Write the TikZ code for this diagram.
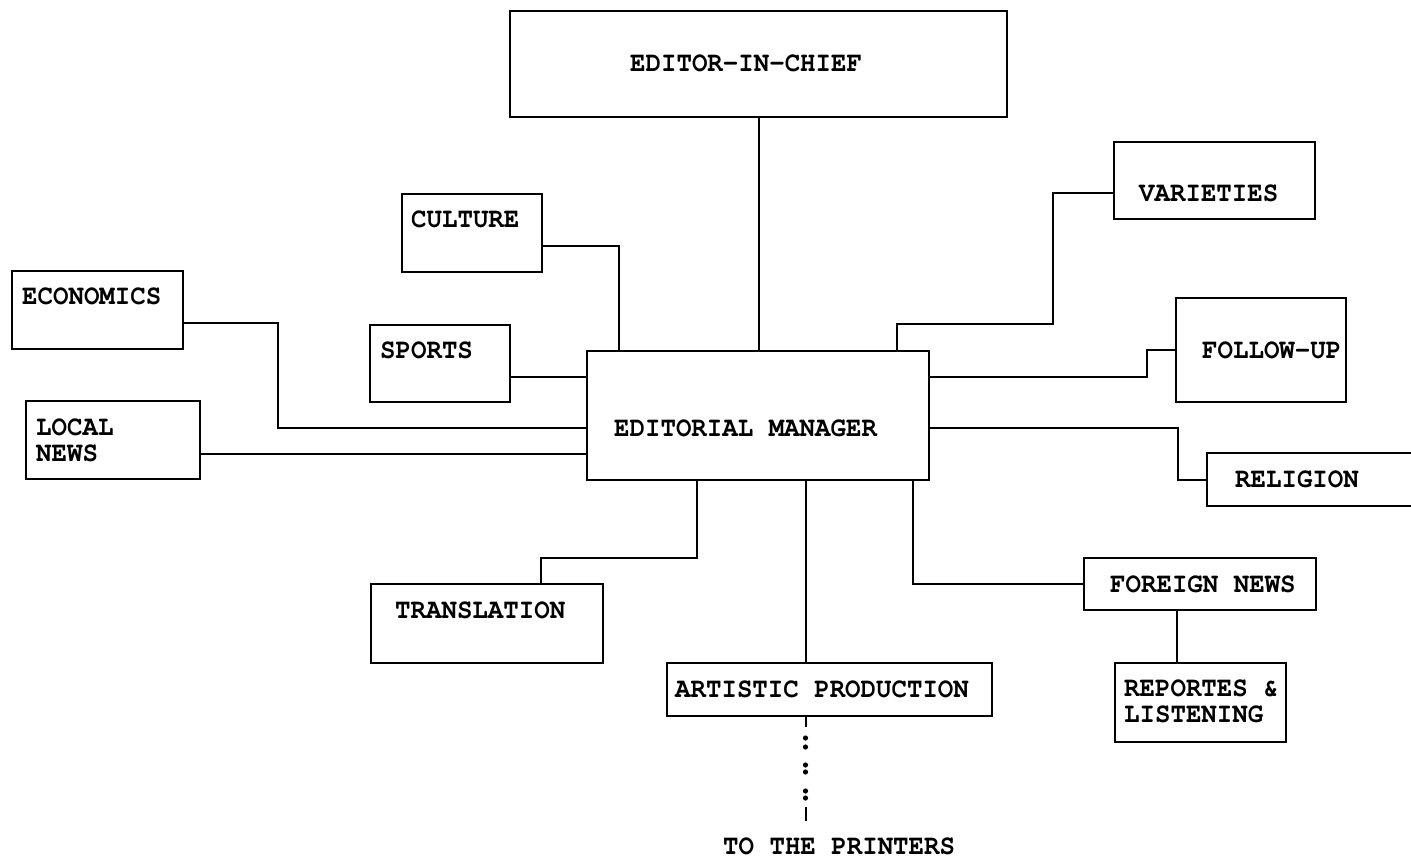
\documentclass[tikz,border=0pt]{standalone}
\usepackage{fontspec}
\newfontfamily\courfont{texgyrecursor}[Extension=.otf, UprightFont=*-regular, BoldFont=*-bold, FakeStretch=0.92]
\usetikzlibrary{calc}
\tikzset{
  box/.style={draw, line width=2pt, rectangle, inner sep=0pt},
  txt/.style={inner sep=0pt, anchor=west, font=\courfont\bfseries\fontsize{28}{26}\selectfont, align=left},
  conn/.style={line width=2pt},
  dotc/.style={fill=black}
}
\begin{document}
\begin{tikzpicture}[x=1pt,y=-1pt]
\clip (0,0) rectangle (1411,859);
\fill[white] (0,0) rectangle (1411,859);

% boxes
\node[box, minimum width=497pt, minimum height=106pt] (eic) at (758.5,64) {};
\node[box, minimum width=342pt, minimum height=129pt] (em) at (758,415.5) {};
\node[box, minimum width=140pt, minimum height=78pt] (culture) at (472,233) {};
\node[box, minimum width=171pt, minimum height=78pt] (econ) at (97.5,310) {};
\node[box, minimum width=140pt, minimum height=77pt] (sports) at (440,363.5) {};
\node[box, minimum width=174pt, minimum height=78pt] (local) at (113,440) {};
\node[box, minimum width=201pt, minimum height=77pt] (var) at (1214.5,180.5) {};
\node[box, minimum width=170pt, minimum height=104pt] (follow) at (1261,350) {};
\node[box, minimum width=223pt, minimum height=53pt] (rel) at (1318.5,479.5) {};
\node[box, minimum width=232pt, minimum height=79pt] (trans) at (487,623.5) {};
\node[box, minimum width=325pt, minimum height=53pt] (art) at (829.5,689.5) {};
\node[box, minimum width=232pt, minimum height=52pt] (foreign) at (1200,584) {};
\node[box, minimum width=171pt, minimum height=79pt] (rep) at (1200.5,702.5) {};

% texts
\node[txt] (eicT) at (630,63) {EDITOR-IN-CHIEF};
\node[txt] (emT) at (614,428) {EDITORIAL MANAGER};
\node[txt] (cultureT) at (411,219) {CULTURE};
\node[txt] (econT) at (22,296) {ECONOMICS};
\node[txt] (sportsT) at (380,350) {SPORTS};
\node[txt, anchor=north west] (localT) at (36,419) {LOCAL\\[0pt]NEWS};
\node[txt] (varT) at (1139,193) {VARIETIES};
\node[txt] (followT) at (1202,350) {FOLLOW-UP};
\node[txt] (relT) at (1235,479) {RELIGION};
\node[txt] (transT) at (395,610) {TRANSLATION};
\node[txt] (artT) at (675,689) {ARTISTIC PRODUCTION};
\node[txt] (foreignT) at (1110,584) {FOREIGN NEWS};
\node[txt, anchor=north west] (repT) at (1124,680) {REPORTES \&\\[0pt]LISTENING};
\node[txt] (printT) at (723,846) {TO THE PRINTERS};

% connectors
\draw[conn] (eic.south) -- (eic.south |- em.north);

\coordinate (c1) at ([yshift=-13pt]culture.east);
\coordinate (c2) at ([xshift=-139pt]em.north);
\draw[conn] (c1) -| (c2);

\coordinate (e1) at ([yshift=-13pt]econ.east);
\coordinate (e2) at ([yshift=-12.5pt]em.west);
\draw[conn] (e1) -| (278,428) -- (e2);

\coordinate (s1) at ([yshift=-13.5pt]sports.east);
\draw[conn] (s1) -- (s1 -| em.west);

\coordinate (l1) at ([yshift=-14pt]local.east);
\draw[conn] (l1) -- (l1 -| em.west);

\coordinate (v1) at ([yshift=-12.5pt]var.west);
\coordinate (v2) at ([xshift=139pt]em.north);
\draw[conn] (v1) -| (1053,324) -| (v2);

\coordinate (f1) at ([yshift=38.5pt]em.east);
\draw[conn] (f1) -| (1147,350) -- (follow.west);

\coordinate (r1) at ([yshift=-12.5pt]em.east);
\draw[conn] (r1) -| (1178,479.5) -- (rel.west);

\coordinate (t1) at ([xshift=-61pt]em.south);
\coordinate (t2) at ([xshift=54pt]trans.north);
\draw[conn] (t1) |- (541,558) -- (t2);

\coordinate (a1) at ([xshift=47.5pt]em.south);
\draw[conn] (a1) -- (a1 |- art.north);

\coordinate (fn1) at ([xshift=155pt]em.south);
\draw[conn] (fn1) |- (foreign.west);

\coordinate (rp1) at ([xshift=-23pt]foreign.south);
\draw[conn] (rp1) -- (rp1 |- rep.north);

% to the printers
\coordinate (p1) at (a1 |- art.south);
\coordinate (p2) at (805.5,821);
\draw[conn] (p1) -- (805.5,727);
\foreach \yy in {738,747,765,772,791,798} \fill[dotc] (805.5,\yy) circle (2.6pt);
\draw[conn] (805.5,807) -- (p2);
\end{tikzpicture}
\end{document}
